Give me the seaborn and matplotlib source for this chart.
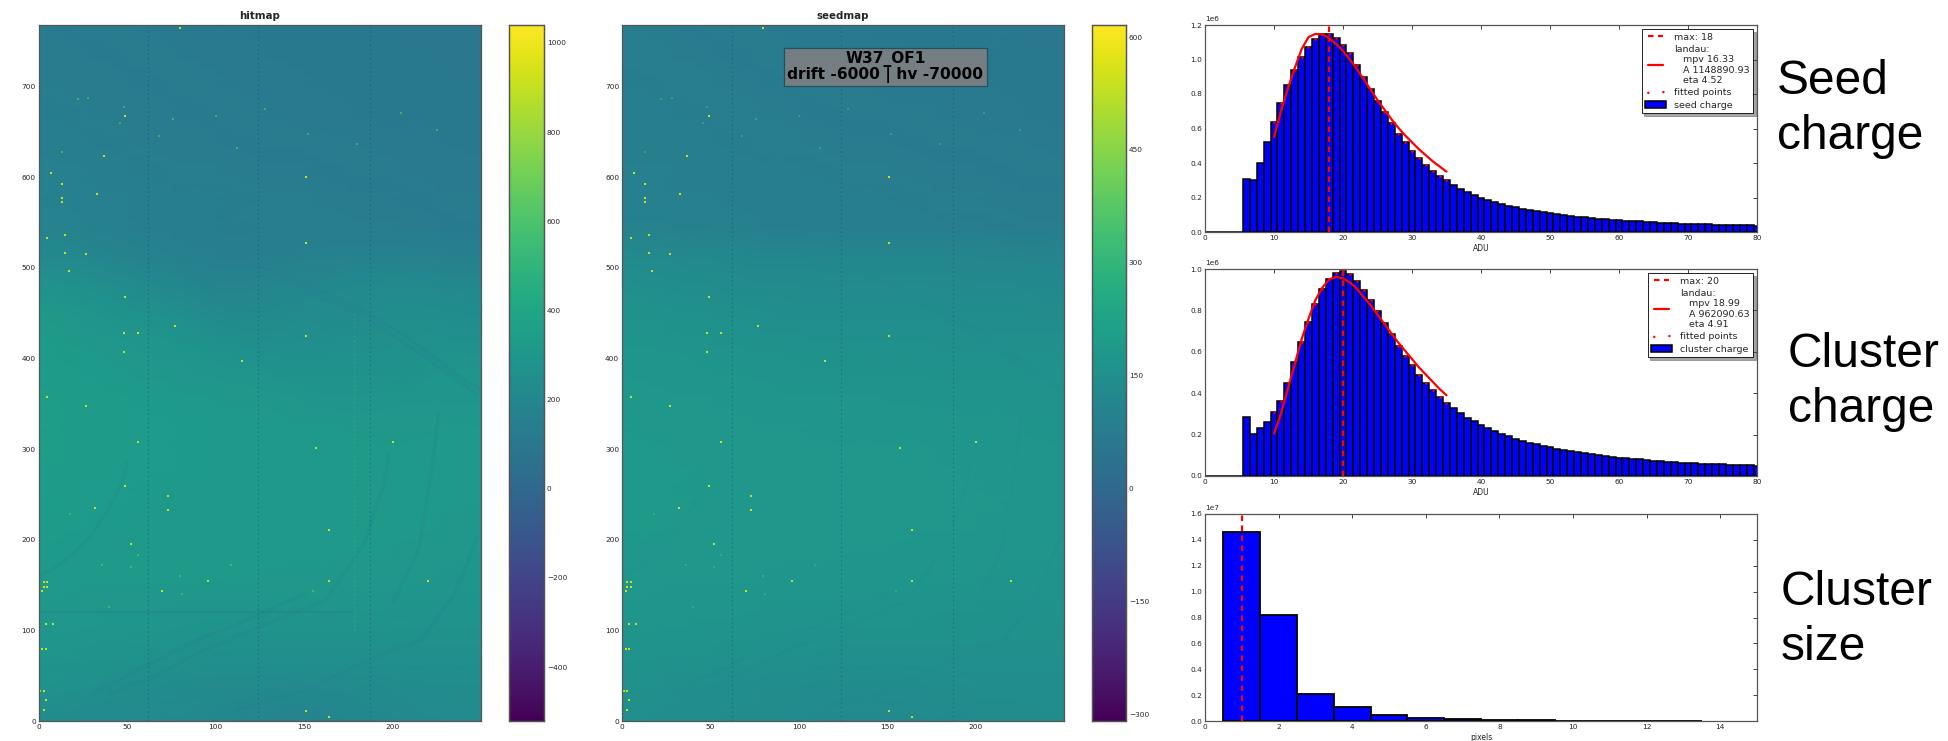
import numpy as np
import seaborn as sns
import matplotlib.pyplot as plt

FIG_W, FIG_H = 1949, 741
COL_STEP, ROW_STEP = 25, 32

# heatmap nodes, top row (768) first, columns 0, 25, ... 250
hit_grid = [
	[128, 125, 122, 118, 115, 112, 110, 108, 106, 104, 102],
	[130, 127, 124, 120, 117, 114, 112, 110, 108, 106, 104],
	[135, 130, 127, 123, 120, 117, 115, 113, 110, 108, 106],
	[142, 136, 130, 126, 123, 120, 118, 116, 113, 110, 108],
	[150, 143, 135, 130, 127, 124, 122, 120, 117, 114, 112],
	[158, 150, 142, 136, 132, 128, 126, 124, 122, 118, 116],
	[165, 158, 150, 142, 138, 134, 132, 130, 128, 124, 120],
	[170, 162, 155, 145, 138, 135, 135, 135, 133, 130, 125],
	[220, 205, 185, 165, 150, 150, 160, 165, 165, 160, 155],
	[280, 265, 235, 210, 185, 190, 195, 215, 220, 215, 205],
	[315, 300, 280, 255, 225, 215, 230, 225, 250, 245, 235],
	[335, 320, 305, 290, 275, 250, 250, 255, 265, 275, 265],
	[340, 330, 320, 310, 300, 290, 270, 280, 270, 290, 290],
	[345, 335, 330, 325, 320, 312, 305, 295, 300, 305, 300],
	[345, 335, 330, 328, 325, 322, 320, 315, 310, 315, 315],
	[345, 335, 330, 328, 325, 322, 320, 320, 318, 318, 318],
	[340, 332, 328, 326, 325, 322, 320, 320, 320, 318, 315],
	[338, 330, 326, 325, 325, 322, 320, 320, 320, 318, 310],
	[330, 325, 322, 322, 320, 320, 318, 318, 316, 312, 305],
	[325, 320, 318, 318, 315, 315, 312, 310, 310, 303, 295],
	[315, 310, 308, 305, 302, 300, 300, 296, 292, 288, 285],
	[305, 298, 295, 288, 280, 276, 276, 272, 272, 268, 268],
	[290, 280, 272, 260, 248, 248, 248, 248, 248, 248, 248],
	[272, 258, 238, 228, 222, 215, 205, 215, 225, 230, 235],
	[235, 222, 218, 212, 205, 190, 180, 195, 205, 215, 220],
]
seed_grid = [
	[78, 76, 74, 72, 70, 68, 66, 64, 63, 62, 60],
	[80, 78, 76, 74, 72, 70, 68, 66, 65, 64, 62],
	[83, 80, 78, 76, 74, 72, 70, 68, 67, 66, 64],
	[86, 83, 81, 78, 76, 74, 72, 71, 70, 68, 66],
	[88, 86, 83, 81, 79, 77, 75, 74, 73, 71, 69],
	[92, 89, 86, 84, 82, 80, 78, 77, 76, 74, 72],
	[95, 92, 90, 87, 85, 83, 82, 80, 79, 77, 75],
	[100, 96, 93, 90, 88, 86, 85, 84, 82, 80, 78],
	[135, 130, 124, 120, 118, 116, 116, 116, 114, 112, 110],
	[150, 146, 140, 135, 132, 130, 130, 130, 128, 126, 124],
	[165, 160, 155, 150, 146, 144, 144, 144, 142, 140, 138],
	[175, 170, 166, 162, 158, 155, 155, 155, 153, 152, 150],
	[182, 178, 174, 170, 167, 165, 164, 164, 162, 160, 158],
	[186, 182, 180, 177, 175, 173, 172, 171, 170, 168, 166],
	[188, 185, 183, 182, 180, 178, 177, 176, 175, 173, 171],
	[190, 187, 185, 184, 183, 182, 180, 179, 178, 176, 174],
	[190, 188, 186, 185, 184, 183, 182, 180, 179, 177, 175],
	[188, 187, 186, 185, 184, 183, 182, 180, 179, 176, 174],
	[186, 185, 184, 183, 182, 181, 180, 178, 177, 175, 172],
	[183, 182, 181, 179, 178, 177, 175, 174, 173, 171, 168],
	[178, 177, 175, 173, 171, 169, 168, 167, 166, 164, 162],
	[172, 170, 168, 165, 162, 160, 159, 158, 158, 156, 155],
	[165, 162, 158, 154, 150, 148, 147, 148, 149, 149, 149],
	[157, 152, 146, 142, 138, 135, 134, 136, 140, 142, 144],
	[150, 144, 140, 136, 132, 128, 126, 130, 134, 138, 140],
]

hit_ticks = [-400, -200, 0, 200, 400, 600, 800, 1000]
seed_ticks = [-300, -150, 0, 150, 300, 450, 600]

# hot pixels (column, row)
hot_cols = [80, 49, 37, 7, 13, 33, 13, 13, 15, 5, 15, 27, 17, 49, 48, 56, 77, 48, 151, 151, 151, 115, 5,
	27, 56, 157, 200, 49, 32, 73, 73, 52, 164, 96, 164, 220, 3, 5, 3, 5, 2, 70, 4, 8, 2, 4, 1, 3, 4, 3, 151, 164,
	0, 0, 0, 0, 0, 0, 0, 0, 0, 0, 0, 0, 0, 0, 0, 0, 0, 0, 0, 0]
hot_rows = [765, 668, 624, 605, 593, 581, 577, 573, 536, 533, 516, 515, 497, 468, 428, 428, 436, 407, 600, 528, 425, 397, 357,
	348, 308, 301, 308, 259, 235, 248, 233, 195, 211, 155, 155, 155, 153, 153, 148, 148, 144, 144, 107, 107, 79, 79, 33, 33, 23, 12, 11, 4,
	205, 187, 160, 150, 138, 128, 118, 108, 104, 98, 90, 85, 80, 66, 54, 45, 38, 27, 18, 8]
dim_cols = [13, 22, 28, 48, 46, 76, 68, 100, 112, 128, 152, 180, 205, 225, 36, 18, 52, 56, 40, 80, 81, 109, 155]
dim_rows = [628, 686, 687, 678, 660, 664, 645, 668, 632, 675, 648, 637, 671, 652, 172, 228, 170, 183, 126, 160, 140, 172, 144]

dead_cols = [62, 124, 187]
bright_col = 178
bright_rows = [100, 450]
dark_row = 120
dark_row_cols = [0, 178]

# darker bands in the hitmap
arc_cols = [
	[0, 10, 20, 30, 40, 47, 50],
	[30, 50, 70, 90, 110, 125, 150],
	[40, 64, 90, 125, 162, 184, 195, 198],
	[112, 151, 186, 216, 235, 248],
	[108, 140, 173, 205, 238, 250],
	[150, 181, 216, 248],
	[200, 215, 223, 226],
]
arc_rows = [
	[160, 170, 185, 205, 235, 262, 285],
	[30, 50, 70, 90, 105, 118, 140],
	[30, 48, 75, 104, 133, 196, 262, 295],
	[12, 34, 67, 89, 140, 203],
	[516, 490, 464, 428, 380, 365],
	[475, 450, 405, 360],
	[130, 190, 288, 340],
]

adu = list(range(6, 81))
seed_charge = [.31, .30, .40, .52, .635, .745, .85, .94, 1.015, 1.075, 1.12, 1.145, 1.15, 1.125, 1.085,
	1.035, .97, .90, .83, .76, .695, .63, .57, .52, .47, .43, .39, .355, .325, .30,
	.272, .25, .23, .213, .20, .187, .173, .16, .152, .143, .133, .127, .12, .114, .108,
	.103, .097, .093, .089, .085, .081, .077, .074, .071, .068, .065, .063, .061, .059, .057,
	.055, .053, .051, .049, .048, .046, .045, .044, .043, .042, .041, .04, .039, .038, .037]
cluster_charge = [.283, .205, .23, .263, .308, .36, .45, .55, .645, .745, .83, .905, .95, .98, .99,
	.975, .94, .90, .85, .795, .74, .685, .63, .58, .535, .49, .45, .415, .382, .353,
	.328, .303, .282, .264, .247, .232, .216, .204, .192, .18, .17, .161, .153, .146, .138,
	.132, .126, .12, .115, .11, .105, .101, .097, .093, .089, .086, .083, .08, .077, .074,
	.072, .07, .067, .065, .063, .061, .06, .058, .057, .056, .055, .054, .053, .052, .05]
fit_adu = list(range(10, 36))
seed_fit = [.55, .70, .83, .95, 1.06, 1.13, 1.148, 1.145, 1.125, 1.09, 1.05, 1.0, .945,
	.885, .825, .765, .71, .655, .605, .56, .52, .48, .445, .41, .38, .35]
cluster_fit = [.205, .30, .42, .54, .66, .76, .85, .91, .95, .962, .955, .935, .905,
	.865, .825, .78, .735, .69, .645, .605, .565, .525, .49, .455, .42, .39]

size_pixels = list(range(1, 14))
size_counts = [1.46, .82, .21, .105, .045, .022, .012, .007, .004, .003, .002, .0015, .001]

side_labels = ["Seed\ncharge", "Cluster\ncharge", "Cluster\nsize"]


def px_axes(fig, x0, y0, x1, y1):
	return fig.add_axes([x0 / FIG_W, 1 - y1 / FIG_H, (x1 - x0) / FIG_W, (y1 - y0) / FIG_H])


def inward(ax):
	ax.tick_params(which="both", direction="in", top=True, right=True, length=3, width=0.6,
		labelsize=5.3, pad=2, color="#222222", labelcolor="#222222")
	for spine in ax.spines.values():
		spine.set_visible(True)
		spine.set_linewidth(0.9)
		spine.set_color("#555555")


def pixel_map(fig, grid, box, cbox, vmin, vmax, ticks, title, arc_alpha, hot_alpha):
	ax = px_axes(fig, *box)
	cax = px_axes(fig, *cbox)
	sns.heatmap(np.array(grid)[::-1], ax=ax, cbar_ax=cax, cmap="viridis", vmin=vmin, vmax=vmax,
		shading="gouraud", xticklabels=False, yticklabels=False)
	ax.set_xlim(0, 250 / COL_STEP)
	ax.set_ylim(0, 768 / ROW_STEP)

	for cols, rows in zip(arc_cols, arc_rows):
		sns.lineplot(x=np.array(cols) / COL_STEP, y=np.array(rows) / ROW_STEP, ax=ax, sort=False,
			estimator=None, color="#2a7a8e", alpha=arc_alpha, lw=2.6)
	for col in dead_cols:
		ax.axvline(col / COL_STEP, color="#1d4a6b", ls=(0, (1, 3)), lw=0.8, alpha=0.6)

	sns.scatterplot(x=np.array(dim_cols) / COL_STEP, y=np.array(dim_rows) / ROW_STEP, ax=ax, marker="s", s=1.5,
		color="#5ec962", linewidth=0, alpha=hot_alpha)
	sns.scatterplot(x=np.array(hot_cols) / COL_STEP, y=np.array(hot_rows) / ROW_STEP, ax=ax, marker="s", s=2.2,
		color="#c8e020", linewidth=0)

	ax.set_xticks(np.arange(0, 201, 50) / COL_STEP, [0, 50, 100, 150, 200])
	ax.set_yticks(np.arange(0, 701, 100) / ROW_STEP, range(0, 701, 100))
	inward(ax)
	ax.set_xlabel("column", fontsize=5.5, labelpad=2, color="#222222")
	ax.set_ylabel("row", fontsize=5.5, labelpad=6, color="#222222")
	ax.set_title(title, fontsize=7.4, fontweight="bold", pad=4)

	cax.set_yticks(ticks, [str(t).replace("-", "\u2212") for t in ticks])
	cax.tick_params(direction="in", length=3, width=0.6, labelsize=5.3, pad=2, right=True, left=False, color="#222222")
	cax.yaxis.set_ticks_position("right")
	for spine in cax.spines.values():
		spine.set_visible(True)
		spine.set_linewidth(0.9)
		spine.set_color("#555555")
	return ax


def charge_hist(fig, box, charge, fit, max_adu, fit_label, hist_label, ymax, yticks):
	ax = px_axes(fig, *box)
	x = [0, 1, 2, 3, 4, 5] + adu
	weights = np.array([0, 0, 0, 0, 0, 0] + charge) * 1e6
	sns.histplot(x=x, weights=weights, bins=np.arange(-0.5, 81).tolist(), ax=ax, color="blue", alpha=1,
		edgecolor="black", linewidth=1.1, label=hist_label)
	ax.axvline(max_adu, color="red", ls=(0, (2.5, 2)), lw=1.6, label="max: {}".format(max_adu))
	sns.lineplot(x=fit_adu, y=np.array(fit) * 1e6, ax=ax, color="red", lw=1.6, label=fit_label, estimator=None)
	sns.scatterplot(x=fit_adu, y=np.array(charge[4:30]) * 1e6, ax=ax, color="red", s=3, linewidth=0, label="fitted points")
	ax.set_xlim(0, 80)
	ax.set_ylim(0, ymax)
	ax.set_yticks(yticks)
	ax.set_xlabel("ADU", fontsize=5.5, labelpad=2, color="#222222")
	ax.set_ylabel("")
	inward(ax)
	ax.yaxis.get_offset_text().set_fontsize(5.3)
	ax.legend(loc="upper right", fontsize=6.8, scatterpoints=2, numpoints=2, fancybox=False, shadow=True,
		framealpha=1, edgecolor="black", labelspacing=0.35, borderpad=0.4, handlelength=2.2,
		borderaxespad=0.4).get_frame().set_linewidth(0.6)
	return ax


if __name__ == "__main__":
	sns.set_style("white")
	fig = plt.figure(figsize=(FIG_W / 100, FIG_H / 100), dpi=100)

	hit_ax = pixel_map(fig, hit_grid, (38.6, 25, 481, 721), (509, 25, 544, 721), -521, 1040, hit_ticks, "hitmap", 0.18, 0.6)
	sns.lineplot(x=np.array(dark_row_cols) / COL_STEP, y=[dark_row / ROW_STEP] * 2, ax=hit_ax, color="#2a7a8e", alpha=0.4, lw=1.4, estimator=None)
	sns.lineplot(x=[bright_col / COL_STEP] * 2, y=np.array(bright_rows) / ROW_STEP, ax=hit_ax, color="#4cc26c", alpha=0.5, lw=0.8,
		ls=(0, (1, 3)), estimator=None, sort=False)

	seed_ax = pixel_map(fig, seed_grid, (622, 25, 1064, 721), (1092, 25, 1126, 721), -309, 616, seed_ticks, "seedmap", 0.05, 0.4)
	seed_ax.text(149 / COL_STEP, 722 / ROW_STEP, "W37_OF1\ndrift -6000 | hv -70000", ha="center", va="center",
		fontsize=11.1, fontweight="bold", linespacing=1.0, color="black",
		bbox=dict(boxstyle="square,pad=0.2", facecolor="#757f83", edgecolor="#22505f", linewidth=0.9))

	charge_hist(fig, (1205, 25, 1757, 232), seed_charge, seed_fit, 18,
		"landau:\n   mpv 16.33\n   A 1148890.93\n   eta 4.52", "seed charge", 1.2e6, np.arange(0, 1.21, 0.2) * 1e6)
	charge_hist(fig, (1205, 269, 1757, 476), cluster_charge, cluster_fit, 20,
		"landau:\n   mpv 18.99\n   A 962090.63\n   eta 4.91", "cluster charge", 1.0e6, np.arange(0, 1.01, 0.2) * 1e6)

	ax = px_axes(fig, 1205, 514, 1757, 721)
	sns.histplot(x=size_pixels, weights=np.array(size_counts) * 1e7, bins=np.arange(0.5, 14).tolist(), ax=ax, color="blue", alpha=1,
		edgecolor="black", linewidth=1.3)
	ax.axvline(1, color="red", ls=(0, (2.5, 2)), lw=1.6)
	ax.set_xlim(0, 15)
	ax.set_ylim(0, 1.6e7)
	ax.set_yticks(np.arange(0, 1.61, 0.2) * 1e7)
	ax.set_xticks(range(0, 15, 2))
	ax.set_xlabel("pixels", fontsize=5.5, labelpad=2, color="#222222")
	ax.set_ylabel("")
	inward(ax)
	ax.yaxis.get_offset_text().set_fontsize(5.3)

	for label, (x, y) in zip(side_labels, [(1777, 109), (1788, 382), (1781, 620)]):
		fig.text(x / FIG_W, 1 - y / FIG_H, label, fontsize=34.5, family="Liberation Sans", va="center", ha="left",
			linespacing=1.27, color="black")

	fig.savefig("out.png", dpi=100)
